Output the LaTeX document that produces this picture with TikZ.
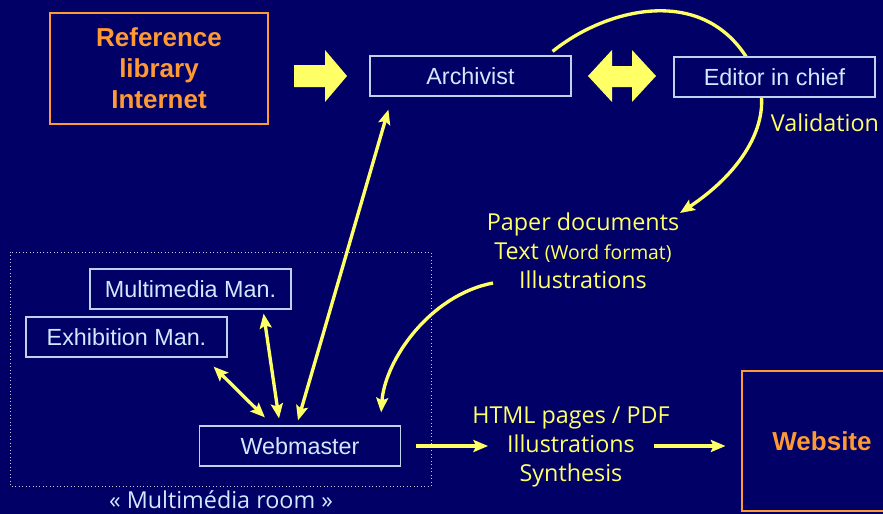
\documentclass[tikz,border=0pt]{standalone}
\usepackage{fontspec}
\setmainfont{Liberation Sans}
\newfontfamily\handfont{Open Sans}
\usetikzlibrary{calc,arrows.meta}
\definecolor{navy}{RGB}{0,0,102}
\definecolor{boxline}{RGB}{190,210,235}
\definecolor{boxtext}{RGB}{210,232,255}
\definecolor{lemon}{RGB}{255,255,102}
\definecolor{peach}{RGB}{255,153,51}
\begin{document}
\begin{tikzpicture}[x=0.75pt,y=-0.75pt,>={Stealth[length=11pt,width=9pt,inset=2pt]},
    box/.style={draw=boxline,line width=0.9pt,fill=navy,text=boxtext,minimum width=150.75pt,minimum height=30pt,inner sep=0pt,font=\fontsize{17.5}{21}\selectfont},
    bigbox/.style={draw=peach,line width=2.2pt,text=peach,align=center,inner sep=0pt,font=\fontsize{19.5}{23.3}\selectfont\bfseries},
    hand/.style={text=lemon,align=center,inner sep=0pt,font=\handfont\fontsize{17.5}{21.75}\selectfont},
    link/.style={draw=lemon,line width=2.5pt},
    blockarrow/.style={fill=lemon}]
  \fill[navy] (0,0) rectangle (883,514);
  \clip (0,0) rectangle (883,514);
  % boxes
  \node[bigbox,minimum width=163.5pt,minimum height=83.25pt] (ref) at (159,68.5) {Reference\\library\\Internet};
  \node[box] (arch) at (470.5,76) {Archivist};
  \node[hand] (valid) at (825,123) {Validation};
  \node[hand] (paper) at (583,251) {Paper documents\\Text {\fontsize{14.5}{15}\selectfont(Word format)}\\Illustrations};
  \draw[white!80!navy,dotted,line width=0.6pt] (10,252) rectangle (431,486);
  \node[box] (mm) at (190.5,289) {Multimedia Man.};
  \node[box] (exh) at (126.5,337) {Exhibition Man.};
  \node[box] (web) at (300,446) {Webmaster};
  \node[hand,text=boxtext] (room) at (221,500) {« Multimédia room »};
  \node[hand] (html) at (571,447) {HTML pages / PDF\\Illustrations\\Synthesis};
  \node[bigbox,minimum width=120pt,minimum height=105pt] (site) at (822,441) {Website};
  % block arrows
  \fill[blockarrow] (294,65) -- (325,65) -- (325,50) -- (347,76) -- (325,102) -- (325,87) -- (294,87) -- cycle;
  \fill[blockarrow] (588,76) -- (612,50) -- (612,66) -- (632,66) -- (632,50) -- (656,76) -- (632,102) -- (632,87) -- (612,87) -- (612,102) -- cycle;
  % validation loop
  \draw[link,->] ($(arch.north east)+(-19,-4)$) .. controls (610,5) and (718,-20) .. (758,80)
    .. controls (772,120) and (745,170) .. ($(paper)+(97,-38)$);
  \node[box] (chief) at (774.5,77) {Editor in chief};
  % links
  \draw[link,->] ($(paper)+(-90,32)$) .. controls (430,295) and (385,360) .. ($(web.north east)+(-20,-13)$);
  \draw[link,<->] ($(arch.south west)+(19,13)$) -- ($(web.north)+(-2,-5)$);
  \draw[link,<->] ($(mm.south east)+(-28,4)$) -- ($(web.north)+(-21,-7)$);
  \draw[link,<->] ($(exh.south east)+(-14,9)$) -- ($(web.north west)+(66,-8)$);
  \draw[link,->] ($(web.east)+(15,0)$) -- ($(web.east)+(87,0)$);
  \draw[link,->] ($(web.east)+(253,0)$) -- ($(web.east -| site.west)+(-15,0)$);
\end{tikzpicture}
\end{document}
